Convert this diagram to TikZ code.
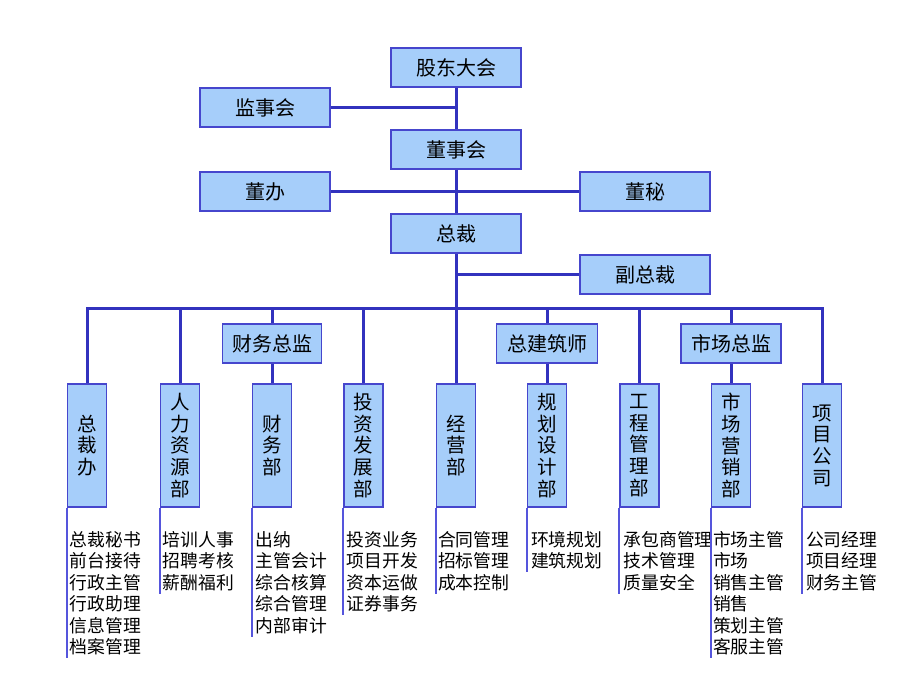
\documentclass[tikz,border=0pt]{standalone}
\usepackage{fontspec}
\setmainfont{Noto Sans CJK SC}
\definecolor{boxfill}{RGB}{166,206,250}
\definecolor{boxdraw}{RGB}{70,70,205}
\definecolor{conn}{RGB}{50,50,190}
\definecolor{subline}{RGB}{85,85,220}
\tikzset{
  hbox/.style={draw=boxdraw, fill=boxfill, line width=1.2pt, minimum height=39pt, inner sep=0pt, font=\fontsize{20}{24}\selectfont},
  vbox/.style={draw=boxdraw, fill=boxfill, line width=1.2pt, minimum width=39pt, minimum height=123pt, inner sep=0pt, align=center, font=\fontsize{19.5}{21.7}\selectfont},
  link/.style={draw=conn, line width=3pt},
  sublink/.style={draw=subline, line width=2pt},
  listtext/.style={anchor=north west, align=left, inner xsep=0pt, inner ysep=3pt, font=\fontsize{17.8}{21.5}\selectfont}
}
\begin{document}
\begin{tikzpicture}[x=1pt,y=-1pt]
\useasboundingbox (0,0) rectangle (920,690);
% top level
\node[hbox, minimum width=130pt] (gd)  at (456,67.5)  {股东大会};
\node[hbox, minimum width=130pt] (js)  at (265,107.5) {监事会};
\node[hbox, minimum width=130pt] (dsh) at (456,149.5) {董事会};
\node[hbox, minimum width=130pt] (db)  at (265,191.5) {董办};
\node[hbox, minimum width=130pt] (dm)  at (645,191.5) {董秘};
\node[hbox, minimum width=130pt] (zc)  at (456,233.5) {总裁};
\node[hbox, minimum width=130pt] (fzc) at (645,274.5) {副总裁};
% middle level
\node[hbox, minimum width=99pt]  (m1) at (272,343.5) {财务总监};
\node[hbox, minimum width=101pt] (m2) at (547,343.5) {总建筑师};
\node[hbox, minimum width=100pt] (m3) at (731,343.5) {市场总监};
% departments
\node[vbox] (d1) at (87,445.5)  {总\\裁\\办};
\node[vbox] (d2) at (180,445.5) {人\\力\\资\\源\\部};
\node[vbox] (d3) at (272,445.5) {财\\务\\部};
\node[vbox] (d4) at (363.5,445.5) {投\\资\\发\\展\\部};
\node[vbox] (d5) at (456,445.5) {经\\营\\部};
\node[vbox] (d6) at (547,445.5) {规\\划\\设\\计\\部};
\node[vbox] (d7) at (639.5,445.5) {工\\程\\管\\理\\部};
\node[vbox] (d8) at (731,445.5) {市\\场\\营\\销\\部};
\node[vbox] (d9) at (822,445.5) {项\\目\\公\\司};
\coordinate (bus) at (456,308.5);
% connectors top
\draw[link] (gd.south) -- (dsh.north);
\draw[link] (js.east) -- (js.east -| gd.south);
\draw[link] (dsh.south) -- (zc.north);
\draw[link] (db.east) -- (dm.west);
\draw[link] (zc.south) -- (bus);
\draw[link] (fzc.west) -- (fzc.west -| zc.south);
% bus
\draw[link] (d1.north) -- (d1.north |- bus) -- (d9.north |- bus) -- (d9.north);
\draw[link] (d2.north) -- (d2.north |- bus);
\draw[link] (m1.north) -- (m1.north |- bus);
\draw[link] (m1.south) -- (d3.north);
\draw[link] (d4.north) -- (d4.north |- bus);
\draw[link] (d5.north) -- (d5.north |- bus);
\draw[link] (m2.north) -- (m2.north |- bus);
\draw[link] (m2.south) -- (d6.north);
\draw[link] (d7.north) -- (d7.north |- bus);
\draw[link] (m3.north) -- (m3.north |- bus);
\draw[link] (m3.south) -- (d8.north);
% lists
\node[listtext] (l1) at ([xshift=2.5pt]d1.south west |- 0,528) {总裁秘书\\前台接待\\行政主管\\行政助理\\信息管理\\档案管理};
\node[listtext] (l2) at ([xshift=2.5pt]d2.south west |- 0,528) {培训人事\\招聘考核\\薪酬福利};
\node[listtext] (l3) at ([xshift=3.5pt]d3.south west |- 0,528) {出纳\\主管会计\\综合核算\\综合管理\\内部审计};
\node[listtext] (l4) at ([xshift=3pt]d4.south west |- 0,528) {投资业务\\项目开发\\资本运做\\证券事务};
\node[listtext] (l5) at ([xshift=2pt]d5.south west |- 0,528) {合同管理\\招标管理\\成本控制};
\node[listtext] (l6) at ([xshift=4pt]d6.south west |- 0,528) {环境规划\\建筑规划};
\node[listtext] (l7) at ([xshift=4pt]d7.south west |- 0,528) {承包商管理\\技术管理\\质量安全};
\node[listtext] (l8) at ([xshift=2pt]d8.south west |- 0,528) {市场主管\\市场\\销售主管\\销售\\策划主管\\客服主管};
\node[listtext] (l9) at ([xshift=4pt]d9.south west |- 0,528) {公司经理\\项目经理\\财务主管};
\foreach \i in {1,...,9} {
  \draw[sublink] (d\i.south west) -- (d\i.south west |- l\i.south);
}
\end{tikzpicture}
\end{document}
